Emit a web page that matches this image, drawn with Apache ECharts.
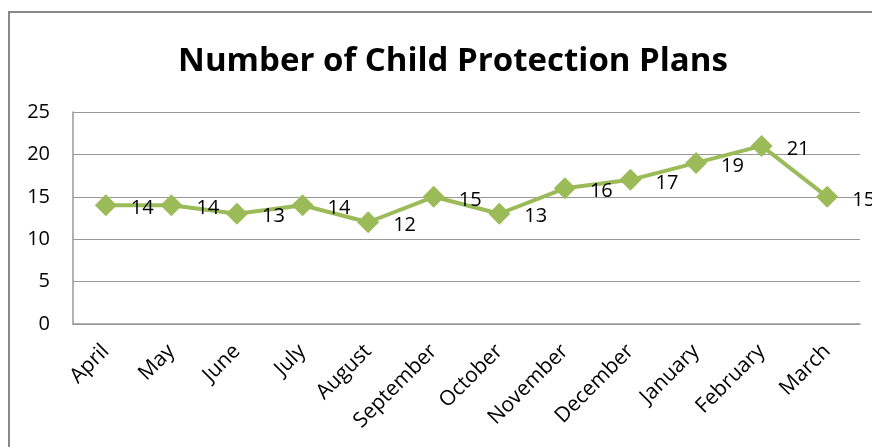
<!DOCTYPE html>
<html><head><meta charset="utf-8">
<script src="https://cdn.jsdelivr.net/npm/echarts@6/dist/echarts.min.js"></script>
<style>html,body{margin:0;padding:0;background:#fff}#c{width:872px;height:447px}</style>
</head><body><div id="c"></div>
<script>
const categories = ['April','May','June','July','August','September','October','November','December','January','February','March'];
const plans = [14,14,13,14,12,15,13,16,17,19,21,15];
const yTicks = [0,5,10,15,20,25];

const chart = echarts.init(document.getElementById('c'));
const font = '"Open Sans", "Noto Sans", sans-serif';
chart.setOption({
  animation: false,
  backgroundColor: '#fff',
  title: {
    text: 'Number of Child Protection Plans',
    left: 448, top: 40, textAlign: 'center',
    textStyle: {fontFamily: font, fontSize: 33, fontWeight: 'bold', color: '#000'}
  },
  graphic: [{
    type: 'rect', shape: {x: 9, y: 12, width: 900, height: 500},
    style: {fill: 'none', stroke: '#888', lineWidth: 2}, silent: true, z: -1
  }],
  grid: {left: 73, right: 12, top: 112, bottom: 123, containLabel: false},
  xAxis: {
    type: 'category', data: categories, boundaryGap: true,
    axisLine: {show: true, lineStyle: {color: '#999', width: 1.5}},
    axisTick: {show: false},
    axisLabel: {rotate: 45, interval: 0, margin: 24, fontFamily: font, fontSize: 21, color: '#000'}
  },
  yAxis: {
    type: 'value', min: yTicks[0], max: yTicks[yTicks.length-1], interval: 5,
    axisLine: {show: true, lineStyle: {color: '#999', width: 1.5}},
    axisTick: {show: false},
    splitLine: {lineStyle: {color: '#999', width: 1.2}},
    axisLabel: {margin: 23, fontFamily: font, fontSize: 20, color: '#000'}
  },
  series: [{
    type: 'line', data: plans,
    symbol: 'diamond', symbolSize: 22,
    lineStyle: {color: '#9BBB59', width: 4},
    itemStyle: {color: '#9BBB59'},
    label: {show: true, position: 'right', distance: 14, offset: [0, 3],
      fontFamily: font, fontSize: 20, color: '#000'}
  }]
});
</script></body></html>
